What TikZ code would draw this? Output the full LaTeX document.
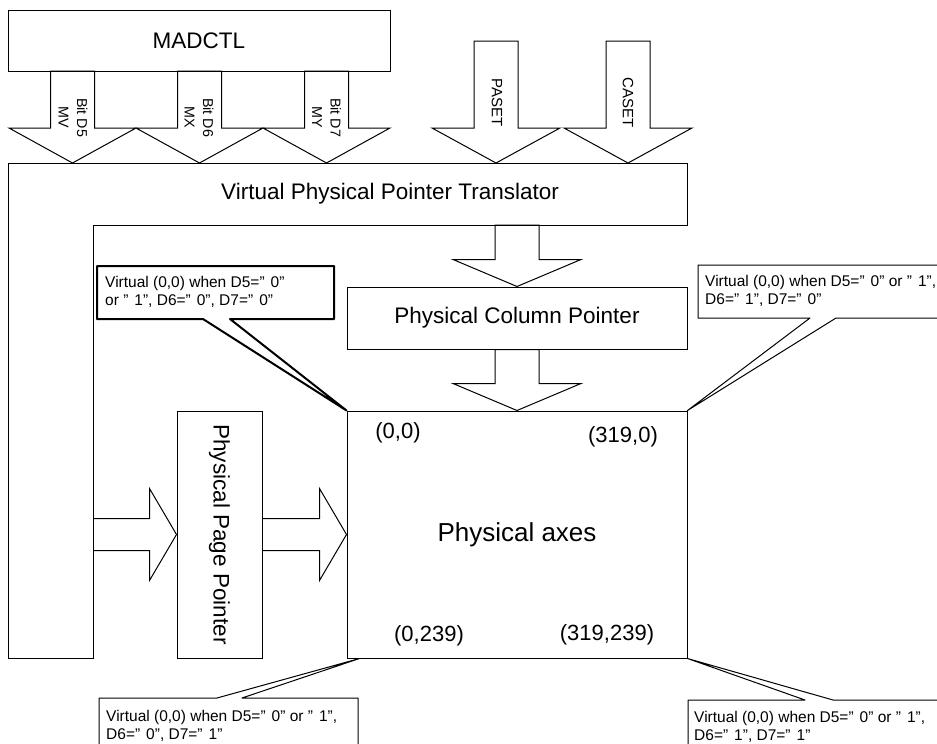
\documentclass[tikz,border=0pt]{standalone}
\usepackage{graphicx}
\usepackage{fontspec}
\setmainfont{Liberation Sans}
\usetikzlibrary{calc}

% block arrows: top centre, tip, head half width, head length
\newcommand\dnarrow[4]{%
  \draw[blk] ($#1+(-22,0)$) -- ($#2+(-22,-#4)$) -- ($#2+(-#3,-#4)$) -- #2
    -- ($#2+(#3,-#4)$) -- ($#2+(22,-#4)$) -- ($#1+(22,0)$) -- cycle;}
% tail centre, tip
\newcommand\rtarrow[2]{%
  \draw[blk] ($#1+(0,-16)$) -- ($#2+(-27,-16)$) -- ($#2+(-27,-46)$) -- #2
    -- ($#2+(-27,46)$) -- ($#2+(-27,16)$) -- ($#1+(0,16)$);}
% quoted bit value
\newcommand\qv[1]{”\hspace{6pt}#1”}

\begin{document}
\begin{tikzpicture}[x=1pt,y=-1pt,
  box/.style={draw,line width=1pt,inner sep=0pt},
  blk/.style={line width=1pt,line join=miter},
  big/.style={font=\fontsize{22.5}{27}\selectfont},
  bitlbl/.style={font=\fontsize{14.3}{18.5}\selectfont,rotate=-90,align=center,inner sep=0pt},
  coord/.style={font=\fontsize{22}{26}\selectfont},
  note/.style={font=\fontsize{15.5}{18.5}\selectfont,align=left,inner sep=0pt,anchor=north west},
  callout/.style={line width=1pt,line join=round}]
\useasboundingbox (0,0) rectangle (937,744);

% blocks
\node[box,big,minimum width=382pt,minimum height=61pt] (madctl) at (199,40.5) {MADCTL};
\draw[blk] (8,163) -- (687,163) -- (687,225) -- (93,225) -- (93,658) -- (8,658) -- cycle;
\node[big] (transl) at (390,194) {Virtual Physical Pointer Translator};
\node[box,big,minimum width=340pt,minimum height=62pt] (colptr) at (517,318) {Physical Column Pointer};
\node[box,big,minimum width=85pt,minimum height=247pt] (pageptr) at (219.5,534.5) {\rotatebox{-90}{Physical Page Pointer}};
\node[box,minimum width=340pt,minimum height=247pt,font=\fontsize{26}{30}\selectfont] (axes) at (517,534.5) {Physical axes};
\coordinate (pgin) at (93,534.5);

% arrows
\dnarrow{(72.5,71)}{(72.5,163)}{63.5}{35}
\dnarrow{(199.5,71)}{(199.5,163)}{63.5}{35}
\dnarrow{(326.5,71)}{(326.5,163)}{63.5}{35}
\dnarrow{(496,41)}{(496,163)}{64}{35}
\dnarrow{(628,41)}{(628,163)}{64}{35}
\dnarrow{(517,225)}{(colptr.north)}{64}{27}
\dnarrow{(colptr.south)}{(axes.north)}{64}{27}
\rtarrow{(pgin)}{(pageptr.west)}
\rtarrow{(pageptr.east)}{(axes.west)}

\node[bitlbl] (d5) at (73,117.5) {Bit D5\\MV};
\node[bitlbl] (d6) at (199,117.5) {Bit D6\\MX};
\node[bitlbl] (d7) at (326.5,117.5) {Bit D7\\MY};
\node[bitlbl,font=\fontsize{15}{18}\selectfont] (paset) at (497,102.5) {PASET};
\node[bitlbl,font=\fontsize{15}{18}\selectfont] (caset) at (628,102.5) {CASET};

% corner labels
\node[coord] (c00) at (398,433) {(0,0)};
\node[coord] (c3190) at (623,437) {(319,0)};
\node[coord] (c0239) at (429,636) {(0,239)};
\node[coord] (c319239) at (607,635) {(319,239)};

% callouts
\draw[callout,line width=2pt] (97,266) -- (334,266) -- (334,319) -- (230,319) -- (axes.north west) -- (203,319) -- (97,319) -- cycle;
\node[note] (n1) at (105,276) {Virtual (0,0) when D5=\qv{0}\\or \qv{1}, D6=\qv{0}, D7=\qv{0}};
\draw[callout] (698,265) -- (960,265) -- (960,318) -- (836,318) -- (axes.north east) -- (810,318) -- (698,318) -- cycle;
\node[note] (n2) at (705,275) {Virtual (0,0) when D5=\qv{0} or \qv{1},\\D6=\qv{1}, D7=\qv{0}};
\draw[callout] (99,760) -- (99,698) -- (217,698) -- ($(axes.south west)+(13,0)$) -- (242,698) -- (358,698) -- (358,760);
\node[note] (n3) at (106,710) {Virtual (0,0) when D5=\qv{0} or \qv{1},\\D6=\qv{0}, D7=\qv{1}};
\draw[callout] (688,760) -- (688,700) -- (805,700) -- (axes.south east) -- (833,700) -- (960,700);
\node[note] (n4) at (694,711) {Virtual (0,0) when D5=\qv{0} or \qv{1},\\D6=\qv{1}, D7=\qv{1}};
\end{tikzpicture}
\end{document}
